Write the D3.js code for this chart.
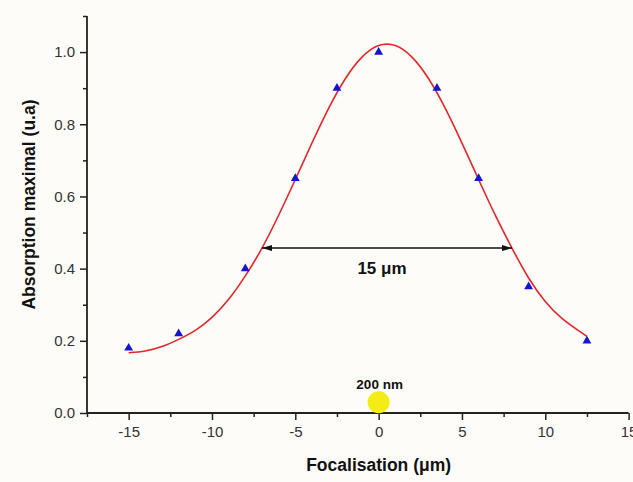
<!DOCTYPE html>
<html>
<head>
<meta charset="utf-8">
<script src="https://cdn.jsdelivr.net/npm/d3@7"></script>
<style>
  html, body { margin: 0; padding: 0; background: #fdfcf9; }
  svg { display: block; }
  text { font-family: "Liberation Sans", Arial, sans-serif; }
</style>
</head>
<body>
<svg id="chart" width="633" height="482"></svg>
<script>
// ---- data ----
const pointX = [-15, -12, -8, -5, -2.5, 0, 3.5, 6, 9, 12.5];
const pointY = [0.18, 0.22, 0.40, 0.65, 0.90, 1.00, 0.90, 0.65, 0.35, 0.20];

const fitX = [-15, -14, -13, -12, -11, -10, -9, -8, -7, -6, -5, -4, -3, -2, -1, 0, 1, 2, 3, 4, 5, 6, 7, 8, 9, 10, 11, 12, 12.5];
const fitY = [0.167, 0.172, 0.184, 0.204, 0.229, 0.265, 0.315, 0.380, 0.457, 0.548, 0.647, 0.748, 0.844, 0.926, 0.986, 1.018, 1.018, 0.986, 0.926, 0.844, 0.748, 0.647, 0.548, 0.457, 0.374, 0.309, 0.262, 0.228, 0.212];

const xTicks = [-15, -10, -5, 0, 5, 10, 15];
const xMinor = [-17.5, -12.5, -7.5, -2.5, 2.5, 7.5, 12.5];
const yTicks = [0.0, 0.2, 0.4, 0.6, 0.8, 1.0];
const yMinor = [0.1, 0.3, 0.5, 0.7, 0.9, 1.1];

const fwhmStart = -7, fwhmEnd = 8, fwhmLevel = 0.457;
const fwhmLabel = "15 \u03bcm";
const spotX = [0], spotY = [0.03];
const spotLabel = "200 nm";
const xTitle = "Focalisation (\u03bcm)";
const yTitle = "Absorption maximal (u.a)";

// ---- chart ----
const svg = d3.select("#chart");
const x = d3.scaleLinear().domain([-17.5, 15]).range([87, 628.6]);
const y = d3.scaleLinear().domain([0, 1.1]).range([413, 16]);

const axisColor = "#222";

// x axis
const gx = svg.append("g").attr("transform", `translate(0,${y(0)})`);
gx.call(d3.axisBottom(x).tickValues(xMinor).tickSize(4).tickFormat(""));
gx.select(".domain").remove();
gx.selectAll(".tick line").attr("stroke", axisColor).attr("stroke-width", 1.5);
const gx2 = svg.append("g").attr("transform", `translate(0,${y(0)})`);
gx2.call(d3.axisBottom(x).tickValues(xTicks).tickSize(7).tickPadding(6).tickFormat(d3.format("d")));
gx2.select(".domain").attr("stroke", axisColor).attr("stroke-width", 1.8)
  .attr("d", `M${x(-17.5)},0H${x(15)}`);
gx2.selectAll(".tick line").attr("stroke", axisColor).attr("stroke-width", 1.5);
gx2.selectAll(".tick text").attr("font-size", 15).attr("fill", "#333")
  .attr("font-family", "Liberation Sans, Arial, sans-serif")
  .text(d => d < 0 ? "-" + Math.abs(d) : d);

// y axis
const gy = svg.append("g").attr("transform", `translate(${x(-17.5)},0)`);
gy.call(d3.axisLeft(y).tickValues(yMinor).tickSize(4).tickFormat(""));
gy.select(".domain").remove();
gy.selectAll(".tick line").attr("stroke", axisColor).attr("stroke-width", 1.5);
const gy2 = svg.append("g").attr("transform", `translate(${x(-17.5)},0)`);
gy2.call(d3.axisLeft(y).tickValues(yTicks).tickSize(7).tickPadding(5).tickFormat(d3.format(".1f")));
gy2.select(".domain").remove();
gy2.selectAll(".tick line").attr("stroke", axisColor).attr("stroke-width", 1.5);
gy2.selectAll(".tick text").attr("font-size", 15).attr("fill", "#333")
  .attr("font-family", "Liberation Sans, Arial, sans-serif");
svg.append("line")
  .attr("x1", x(-17.5)).attr("x2", x(-17.5))
  .attr("y1", y(0)).attr("y2", y(1.1))
  .attr("stroke", axisColor).attr("stroke-width", 1.8);

// fit curve
const fitData = fitX.map((v, i) => [v, fitY[i]]);
svg.append("path")
  .datum(fitData)
  .attr("fill", "none")
  .attr("stroke", "#e8262a")
  .attr("stroke-width", 1.6)
  .attr("d", d3.line().x(d => x(d[0])).y(d => y(d[1])).curve(d3.curveNatural));

// points
const pts = pointX.map((v, i) => [v, pointY[i]]);
svg.append("g").selectAll("path")
  .data(pts).join("path")
  .attr("transform", d => `translate(${x(d[0])},${y(d[1])})`)
  .attr("d", d3.symbol().type(d3.symbolTriangle).size(34))
  .attr("fill", "#1414d2");

// FWHM arrow
const defs = svg.append("defs");
defs.append("marker").attr("id", "arrEnd")
  .attr("viewBox", "0 0 10 6").attr("refX", 10).attr("refY", 3)
  .attr("markerWidth", 10).attr("markerHeight", 6).attr("markerUnits", "userSpaceOnUse")
  .attr("orient", "auto")
  .append("path").attr("d", "M0,0L10,3L0,6Z").attr("fill", "#111");
defs.append("marker").attr("id", "arrStart")
  .attr("viewBox", "0 0 10 6").attr("refX", 0).attr("refY", 3)
  .attr("markerWidth", 10).attr("markerHeight", 6).attr("markerUnits", "userSpaceOnUse")
  .attr("orient", "auto")
  .append("path").attr("d", "M10,0L0,3L10,6Z").attr("fill", "#111");
svg.append("line")
  .attr("x1", x(fwhmStart)).attr("x2", x(fwhmEnd))
  .attr("y1", y(fwhmLevel)).attr("y2", y(fwhmLevel))
  .attr("stroke", "#111").attr("stroke-width", 1.6)
  .attr("marker-start", "url(#arrStart)").attr("marker-end", "url(#arrEnd)");
svg.append("text")
  .attr("x", x(0.2)).attr("y", y(fwhmLevel) + 26)
  .attr("text-anchor", "middle").attr("font-size", 17).attr("font-weight", "bold")
  .attr("fill", "#111").text(fwhmLabel);

// focal spot
svg.append("g").selectAll("circle")
  .data(spotX.map((v, i) => [v, spotY[i]])).join("circle")
  .attr("cx", d => x(d[0])).attr("cy", d => y(d[1]))
  .attr("r", 11).attr("fill", "#f6ec15");
svg.append("text")
  .attr("x", x(spotX[0]) + 1).attr("y", y(spotY[0]) - 13)
  .attr("text-anchor", "middle").attr("font-size", 13.5).attr("font-weight", "bold")
  .attr("fill", "#111").text(spotLabel);

// axis titles
svg.append("text")
  .attr("x", x(0)).attr("y", 471)
  .attr("text-anchor", "middle").attr("font-size", 17.5).attr("font-weight", "bold")
  .attr("fill", "#111").text(xTitle);
svg.append("text")
  .attr("transform", `translate(35,${(y(0) + y(1.1)) / 2 - 10}) rotate(-90)`)
  .attr("text-anchor", "middle").attr("font-size", 17.5).attr("font-weight", "bold")
  .attr("fill", "#111").text(yTitle);
</script>
</body>
</html>
